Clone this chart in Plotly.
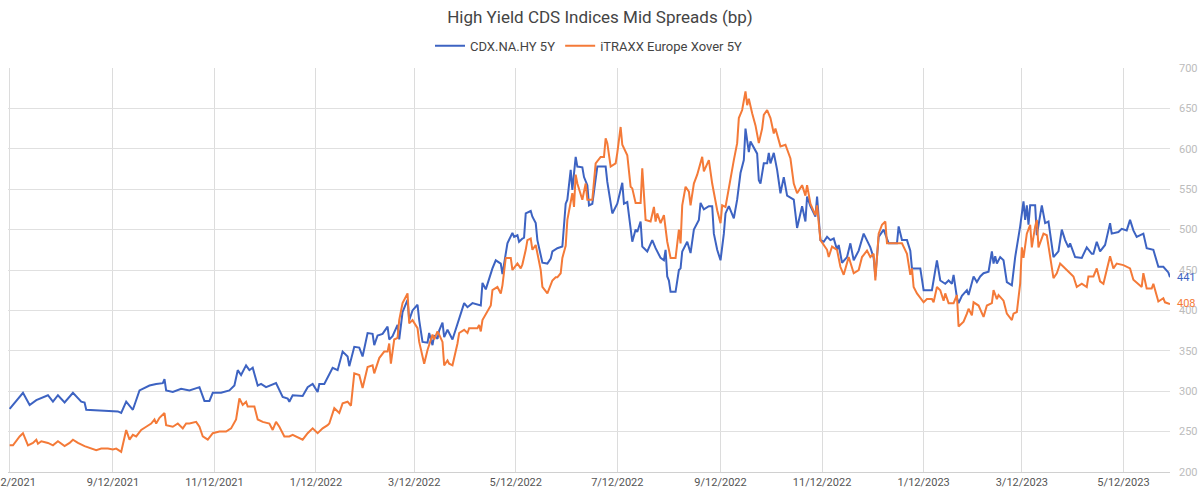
import pandas as pd
import plotly.graph_objects as go

START = pd.Timestamp("2021-07-12")

# CDX.NA.HY 5Y : days since 12 Jul 2021 and mid spread (bp)
cdx_day = [0, 8, 12, 16, 23, 26, 29, 33, 38, 43, 45, 46, 54, 62, 65, 67, 70, 74, 78, 84,
           88, 92, 93, 94, 98, 103, 108, 114, 117, 120, 122, 127, 132, 135, 137, 139, 142, 144, 146, 149,
           151, 154, 160, 164, 167, 168, 170, 176, 179, 182, 185, 186, 189, 194, 197, 200, 203, 204, 207, 210,
           212, 215, 218, 219, 221, 224, 227, 228, 230, 233, 234, 236, 239, 240, 242, 245, 246, 248, 251, 252,
           254, 255, 257, 258, 260, 261, 263, 266, 269, 272, 273, 275, 278, 283, 284, 286, 289, 290, 292, 295,
           296, 298, 299, 302, 303, 305, 306, 308, 309, 310, 313, 314, 316, 317, 320, 323, 325, 326, 329, 332,
           334, 335, 337, 338, 340, 341, 344, 345, 347, 348, 350, 353, 358, 359, 362, 365, 368, 369, 371, 374,
           376, 377, 379, 380, 383, 386, 388, 391, 393, 394, 395, 396, 397, 400, 402, 403, 404, 407, 409, 411,
           414, 415, 417, 420, 422, 423, 425, 427, 429, 430, 432, 435, 437, 439, 441, 442, 444, 445, 447, 449,
           450, 451, 453, 455, 456, 457, 459, 461, 463, 465, 467, 471, 473, 476, 478, 479, 481, 483, 484, 485,
           487, 489, 491, 493, 495, 497, 498, 500, 503, 505, 507, 510, 513, 517, 519, 520, 522, 525, 528, 533,
           534, 536, 539, 541, 542, 547, 549, 554, 557, 559, 562, 564, 566, 567, 569, 570, 572, 575, 576, 579,
           581, 583, 585, 588, 590, 591, 592, 593, 595, 597, 599, 602, 604, 607, 609, 610, 611, 612, 613, 616,
           617, 620, 622, 624, 627, 630, 632, 634, 636, 637, 640, 644, 647, 650, 651, 653, 655, 658, 661, 662,
           666, 668, 671, 673, 675, 677, 681, 683, 687, 690, 693, 696, 697]
cdx_val = [278, 298, 283, 289, 295, 287, 295, 286, 298, 287, 286, 277, 276, 275, 275, 273, 287, 277, 301, 307,
           309, 310, 315, 301, 299, 303, 301, 305, 288, 288, 298, 298, 301, 307, 326, 320, 332, 326, 329, 307,
           309, 305, 310, 293, 291, 287, 295, 294, 305, 309, 299, 309, 309, 329, 326, 349, 343, 331, 355, 354,
           343, 372, 371, 357, 369, 371, 380, 364, 368, 382, 364, 398, 413, 388, 400, 407, 388, 361, 360, 372,
           357, 369, 365, 375, 385, 367, 376, 364, 384, 403, 409, 404, 409, 406, 434, 426, 446, 452, 462, 458,
           445, 471, 483, 496, 491, 493, 485, 489, 490, 520, 523, 516, 508, 487, 459, 458, 464, 473, 477, 479,
           532, 537, 574, 549, 590, 578, 577, 565, 555, 530, 532, 578, 578, 559, 520, 532, 558, 532, 534, 485,
           500, 497, 510, 479, 473, 487, 477, 465, 462, 475, 442, 437, 423, 423, 450, 452, 473, 485, 471, 500,
           512, 533, 525, 529, 529, 495, 475, 462, 495, 520, 529, 514, 537, 570, 586, 625, 596, 609, 601, 594,
           561, 557, 582, 582, 595, 582, 595, 574, 545, 565, 542, 537, 502, 529, 510, 541, 529, 520, 516, 541,
           487, 485, 491, 487, 489, 475, 481, 459, 466, 483, 462, 474, 495, 478, 465, 442, 491, 500, 483, 483,
           504, 487, 487, 474, 452, 452, 425, 425, 462, 437, 433, 437, 433, 444, 416, 409, 418, 425, 419, 442,
           435, 442, 446, 448, 473, 458, 467, 458, 466, 462, 435, 431, 466, 504, 535, 512, 530, 506, 530, 530,
           493, 530, 508, 510, 466, 473, 500, 487, 478, 483, 466, 465, 478, 470, 470, 485, 473, 481, 508, 495,
           497, 501, 499, 512, 499, 491, 495, 477, 475, 454, 454, 447, 441]

# iTRAXX Europe Xover 5Y : days since 12 Jul 2021 and mid spread (bp)
xover_day = [0, 2, 6, 8, 11, 14, 16, 17, 19, 23, 26, 29, 33, 36, 38, 41, 45, 49, 52, 55,
             59, 62, 64, 67, 68, 70, 72, 74, 76, 79, 82, 85, 87, 88, 90, 93, 94, 98, 101, 104,
             106, 108, 112, 114, 116, 119, 122, 126, 130, 133, 136, 138, 140, 142, 143, 147, 149, 152, 156, 158,
             160, 162, 165, 168, 170, 176, 179, 182, 185, 188, 191, 192, 195, 198, 200, 203, 205, 207, 210, 212,
             215, 218, 219, 222, 225, 227, 228, 229, 231, 233, 234, 236, 239, 240, 242, 245, 246, 248, 249, 251,
             254, 255, 257, 258, 260, 261, 263, 264, 266, 269, 270, 273, 275, 276, 281, 282, 283, 284, 287, 289,
             290, 293, 295, 296, 298, 301, 302, 305, 307, 308, 310, 311, 313, 314, 316, 317, 319, 320, 323, 326,
             328, 329, 331, 332, 334, 335, 337, 338, 339, 340, 341, 344, 346, 347, 350, 352, 355, 357, 358, 359,
             361, 364, 365, 367, 368, 371, 373, 374, 376, 379, 380, 382, 385, 387, 388, 389, 391, 393, 395, 397,
             400, 402, 403, 404, 406, 408, 409, 411, 413, 416, 417, 420, 422, 425, 427, 428, 430, 432, 435, 437,
             438, 440, 441, 442, 443, 444, 446, 448, 450, 452, 453, 455, 457, 459, 460, 463, 466, 469, 471, 473,
             476, 478, 479, 481, 484, 485, 487, 489, 491, 492, 494, 497, 499, 501, 504, 507, 510, 512, 515, 517,
             519, 520, 521, 522, 524, 526, 527, 533, 536, 539, 541, 542, 543, 545, 547, 549, 551, 554, 555, 557,
             559, 561, 562, 564, 567, 569, 570, 573, 575, 576, 578, 579, 582, 584, 585, 587, 590, 591, 593, 594,
             597, 599, 602, 603, 605, 607, 608, 609, 611, 613, 614, 616, 617, 618, 620, 621, 623, 625, 627, 629,
             631, 635, 639, 641, 644, 647, 648, 651, 653, 655, 657, 659, 661, 663, 665, 669, 671, 673, 675, 678,
             680, 681, 683, 686, 687, 690, 693, 694, 697]
xover_val = [233, 233, 244, 248, 233, 236, 240, 235, 238, 236, 233, 238, 232, 236, 240, 236, 232, 229, 227, 229,
             229, 228, 229, 225, 233, 252, 240, 246, 244, 252, 256, 260, 265, 260, 267, 273, 258, 256, 260, 254,
             260, 260, 262, 256, 244, 240, 248, 250, 250, 254, 265, 291, 283, 287, 281, 281, 265, 262, 260, 252,
             262, 256, 244, 244, 246, 240, 248, 254, 248, 254, 258, 260, 279, 273, 285, 287, 282, 322, 320, 304,
             330, 332, 322, 341, 349, 349, 359, 334, 364, 366, 388, 409, 421, 384, 388, 378, 361, 345, 334, 351,
             370, 364, 374, 370, 361, 332, 338, 334, 332, 359, 372, 376, 372, 378, 378, 382, 374, 388, 398, 406,
             425, 429, 421, 431, 465, 465, 450, 458, 452, 457, 475, 487, 489, 475, 481, 471, 450, 429, 421, 437,
             441, 441, 446, 465, 480, 512, 532, 545, 528, 568, 557, 537, 557, 537, 537, 582, 590, 590, 613, 607,
             578, 582, 595, 627, 605, 592, 553, 551, 533, 533, 576, 512, 510, 528, 510, 520, 508, 518, 485, 465,
             465, 500, 483, 530, 553, 547, 530, 557, 568, 590, 572, 586, 557, 524, 508, 530, 528, 553, 586, 607,
             638, 648, 660, 671, 654, 662, 644, 629, 607, 625, 642, 648, 638, 619, 625, 603, 605, 588, 557, 545,
             555, 542, 555, 532, 518, 530, 487, 481, 475, 466, 479, 475, 454, 444, 466, 446, 450, 466, 474, 466,
             470, 437, 470, 495, 506, 510, 483, 483, 483, 470, 444, 452, 429, 421, 416, 410, 414, 414, 410, 429,
             425, 412, 421, 409, 409, 419, 380, 386, 396, 402, 394, 410, 406, 398, 392, 406, 409, 425, 414, 419,
             412, 396, 388, 396, 398, 433, 478, 465, 495, 506, 478, 504, 512, 478, 491, 495, 493, 465, 440, 446,
             458, 450, 442, 429, 433, 429, 442, 442, 452, 436, 433, 450, 467, 452, 458, 456, 454, 452, 438, 433,
             429, 446, 427, 427, 433, 411, 415, 410, 408]

tick_dates = ["2021-07-12", "2021-09-12", "2021-11-12", "2022-01-12", "2022-03-12", "2022-05-12",
              "2022-07-12", "2022-09-12", "2022-11-12", "2023-01-12", "2023-03-12", "2023-05-12"]
tick_labels = ["7/12/2021", "9/12/2021", "11/12/2021", "1/12/2022", "3/12/2022", "5/12/2022",
               "7/12/2022", "9/12/2022", "11/12/2022", "1/12/2023", "3/12/2023", "5/12/2023"]

series_names = ["CDX.NA.HY 5Y", "iTRAXX Europe Xover 5Y"]
BLUE = "#3d63c2"
ORANGE = "#f47a38"

cdx_dates = START + pd.to_timedelta(cdx_day, unit="D")
xover_dates = START + pd.to_timedelta(xover_day, unit="D")

fig = go.Figure()
fig.add_trace(go.Scatter(x=cdx_dates, y=cdx_val, mode="lines", name=series_names[0],
                         line=dict(color=BLUE, width=2)))
fig.add_trace(go.Scatter(x=xover_dates, y=xover_val, mode="lines", name=series_names[1],
                         line=dict(color=ORANGE, width=2)))

fig.add_annotation(x=cdx_dates[-1], y=cdx_val[-1], text=str(cdx_val[-1]), showarrow=False,
                   xanchor="left", xshift=5, font=dict(color=BLUE, size=11))
fig.add_annotation(x=xover_dates[-1], y=xover_val[-1], text=str(xover_val[-1]), showarrow=False,
                   xanchor="left", xshift=5, font=dict(color=ORANGE, size=11))

FONT = "Roboto, 'Open Sans', sans-serif"
fig.update_layout(
    width=1200, height=494,
    margin=dict(l=8, r=30, t=68, b=22),
    paper_bgcolor="white", plot_bgcolor="white",
    font=dict(family=FONT, color="#555555", size=11),
    title=dict(text="High Yield CDS Indices Mid Spreads (bp)", x=0.5, xanchor="center",
               y=0.965, yanchor="middle", font=dict(size=17, color="#444444", family=FONT)),
    legend=dict(orientation="h", x=0.5, xanchor="center", y=1.055, yanchor="middle",
                font=dict(size=13, color="#444444"), itemwidth=30, bgcolor="rgba(0,0,0,0)"),
    showlegend=True,
    xaxis=dict(type="date", range=[START - pd.Timedelta(days=1), xover_dates[-1]], tickmode="array",
               tickvals=tick_dates, ticktext=tick_labels, showgrid=True, gridcolor="#dcdcdc",
               gridwidth=1, showline=True, linecolor="#d0d0d0", linewidth=1, ticks="",
               ticklabeloverflow="allow", automargin=False,
               tickfont=dict(size=11, color="#555555"), zeroline=False),
    yaxis=dict(side="right", range=[200, 700], dtick=50, tick0=200, showgrid=True,
               gridcolor="#e0e0e0", gridwidth=1, zeroline=False, showline=False, ticks="",
               automargin=False,
               ticklabelstandoff=8, tickfont=dict(size=11, color="#bcbcbc")),
)

fig.write_html("out.html")
